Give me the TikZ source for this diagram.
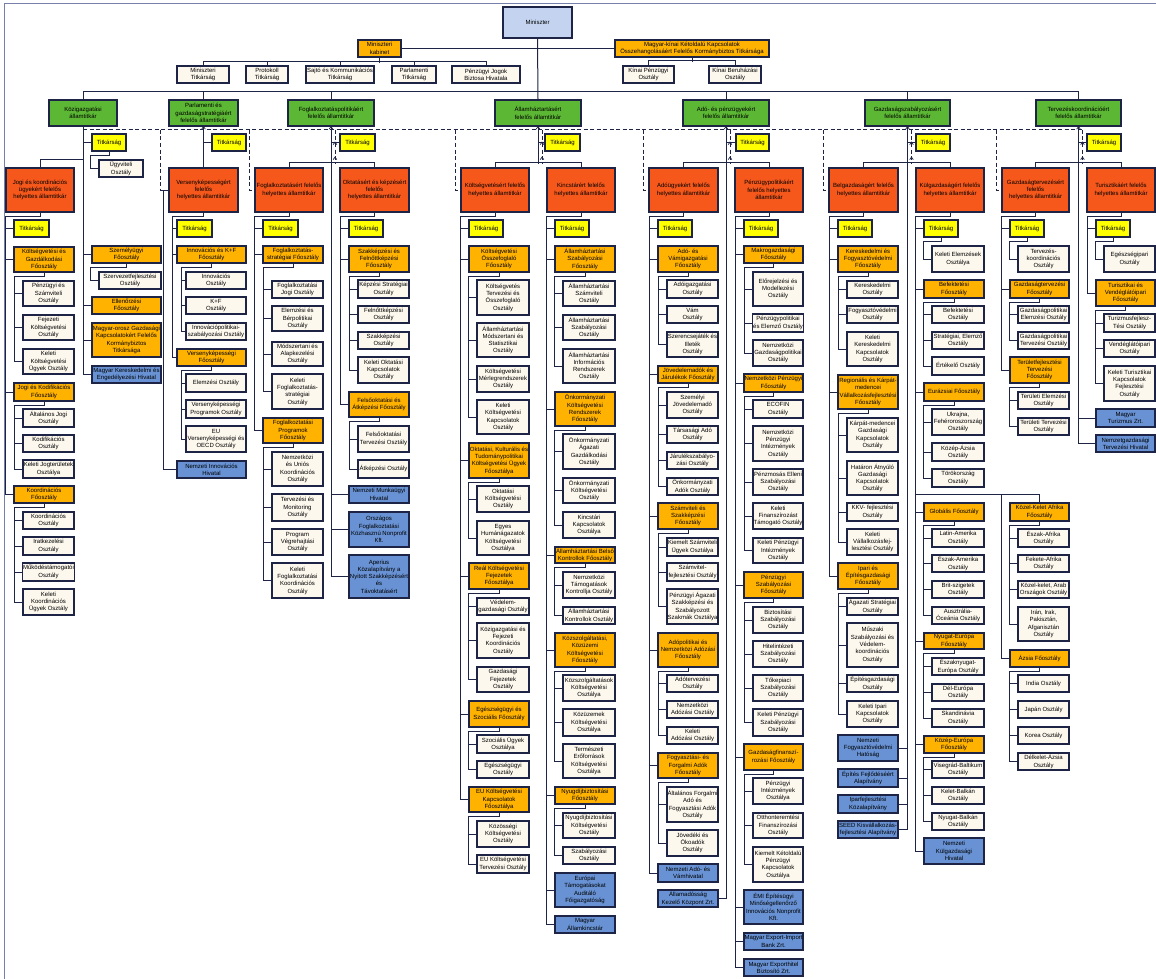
\documentclass[tikz,border=0pt]{standalone}
\usepackage{fontspec}
\setmainfont{Liberation Sans}
\newcommand\myfs{\fontsize{6}{7.3}\selectfont}
\definecolor{bd}{RGB}{30,36,70}
\definecolor{cgreen}{RGB}{92,184,52}
\definecolor{cred}{RGB}{246,88,28}
\definecolor{corange}{RGB}{255,178,0}
\definecolor{cyellow}{RGB}{255,255,0}
\definecolor{ccream}{RGB}{253,248,238}
\definecolor{cblue}{RGB}{104,146,212}
\definecolor{cmin}{RGB}{196,212,240}
\definecolor{cframe}{RGB}{120,128,170}
\tikzset{
 bxbase/.style={draw=bd, line width=1.1pt, inner sep=0.3pt, align=center, font=\myfs, text=black},
 sg/.style={bxbase, fill=cgreen},
 hs/.style={bxbase, fill=cred},
 fo/.style={bxbase, fill=corange},
 ti/.style={bxbase, fill=cyellow},
 os/.style={bxbase, fill=ccream},
 hv/.style={bxbase, fill=cblue},
 mn/.style={bxbase, fill=cmin, line width=1.8pt},
 cn/.style={draw=bd, line width=1pt},
 dsh/.style={draw=bd, line width=1pt, dash pattern=on 4pt off 2.5pt},
 frm/.style={draw=cframe, line width=0.8pt}
}
\newcommand\bx[7]{\node[#1,minimum width={#5-#3},minimum height={#6-#4}] (#2) at ({(#3+#5)/2},{(#4+#6)/2}) {#7};}
\newcommand\kids[3][8]{%
  \foreach \c in {#3}{\xdef\lastkid{\c}}%
  \draw[cn] (#2.south) -- ++(0,4) -| ([xshift=-#1pt]\lastkid.west) -- (\lastkid.west);%
  \foreach \c in {#3}{\draw[cn] (\c.west) -- ++(-#1,0);}%
}
\newcommand\caret[1]{\draw[cn,line width=0.7pt] (#1) ++(-1.8,2.6) -- ++(1.8,-2.6) -- ++(1.8,2.6);}
\begin{document}
\begin{tikzpicture}[x=1pt,y=-1pt]
\useasboundingbox (0,0) rectangle (1156,979);
\fill[white] (0,0) rectangle (1156,979);
\draw[frm] (4,979) -- (4,3) -- (1156,3);
% ---------- top ----------
\bx{mn}{MIN}{503}{7}{572}{38}{Miniszter}
\bx{fo}{KAB}{358}{40}{401}{57}{Miniszteri\\kabinet}
\bx{fo}{MKK}{615}{40}{769}{57}{Magyar-kínai Kétoldalú Kapcsolatok\\Összehangolásáért Felelős Kormánybiztos Titkársága}
\bx{os}{MIT}{177}{66}{229}{83}{Miniszteri\\Titkárság}
\bx{os}{PRT}{246}{66}{288}{83}{Protokoll\\Titkárság}
\bx{os}{SKT}{306}{66}{374}{83}{Sajtó és Kommunikációs\\Titkárság}
\bx{os}{PAT}{392}{66}{436}{83}{Parlamenti\\Titkárság}
\bx{os}{PJB}{452}{66}{520}{83}{Pénzügyi Jogok\\Biztosa Hivatala}
\bx{os}{KPO}{623}{66}{674}{83}{Kínai Pénzügyi\\Osztály}
\bx{os}{KBO}{709}{66}{761}{83}{Kínai Beruházási\\Osztály}
% ---------- state secretaries ----------
\bx{sg}{S1}{49}{100}{117}{126}{Közigazgatási\\államtitkár}
\bx{sg}{S2}{169}{100}{238}{126}{Parlamenti és\\gazdaságstratégiáért\\felelős államtitkár}
\bx{sg}{S3}{288}{100}{374}{126}{Foglalkoztatáspolitikáért\\felelős államtitkár}
\bx{sg}{S4}{495}{100}{581}{126}{Államháztartásért\\felelős államtitkár}
\bx{sg}{S5}{683}{100}{769}{126}{Adó- és pénzügyekért\\felelős államtitkár}
\bx{sg}{S6}{865}{100}{950}{126}{Gazdaságszabályozásért\\felelős államtitkár}
\bx{sg}{S7}{1036}{100}{1121}{126}{Tervezéskoordinációért\\felelős államtitkár}
% ---------- column 1 ----------
\bx{ti}{T1}{92}{134}{126}{151}{Titkárság}
\bx{os}{UGY}{99}{160}{143}{177}{Ügyviteli\\Osztály}
\bx{hs}{H1}{6}{168}{74}{212}{Jogi és koordinációs\\ügyekért felelős\\helyettes államtitkár}
\bx{ti}{T1h}{14}{220}{49}{237}{Titkárság}
\bx{fo}{KGF}{14}{247}{74}{272}{Költségvetési és\\Gazdálkodási\\Főosztály}
\bx{os}{PSO}{23}{281}{74}{306}{Pénzügyi és\\Számviteli\\Osztály}
\bx{os}{FKO}{23}{315}{74}{340}{Fejezeti\\Költségvetési\\Osztály}
\bx{os}{KKU}{23}{349}{74}{374}{Keleti\\Költségvetési\\Ügyek Osztály}
\bx{fo}{JKF}{14}{383}{74}{401}{Jogi és Kodifikációs\\Főosztály}
\bx{os}{AJO}{23}{409}{74}{427}{Általános Jogi\\Osztály}
\bx{os}{KDO}{23}{435}{74}{452}{Kodifikációs\\Osztály}
\bx{os}{KJO}{23}{460}{74}{478}{Keleti Jogterületek\\Osztálya}
\bx{fo}{KOF}{14}{486}{74}{503}{Koordinációs\\Főosztály}
\bx{os}{KOO}{23}{512}{74}{529}{Koordinációs\\Osztály}
\bx{os}{IKO}{23}{537}{74}{555}{Iratkezelési\\Osztály}
\bx{os}{MTO}{23}{563}{74}{581}{Működéstámogatói\\Osztály}
\bx{os}{KKO}{23}{589}{74}{615}{Keleti\\Koordinációs\\Ügyek Osztály}
\bx{fo}{SZF}{92}{246}{161}{263}{Személyügyi\\Főosztály}
\bx{os}{SZO}{99}{272}{161}{289}{Szervezetfejlesztési\\Osztály}
\bx{fo}{ELF}{92}{297}{161}{314}{Ellenőrzési\\Főosztály}
\bx{fo}{MOT}{92}{323}{161}{357}{Magyar-orosz Gazdasági\\Kapcsolatokért Felelős\\Kormánybiztos\\Titkársága}
\bx{hv}{MKE}{92}{366}{161}{383}{Magyar Kereskedelmi és\\Engedélyezési Hivatal}
% ---------- column 2 ----------
\bx{ti}{T2}{212}{134}{246}{151}{Titkárság}
\bx{hs}{H2}{169}{168}{238}{212}{Versenyképességért\\felelős\\helyettes államtitkár}
\bx{ti}{T2h}{177}{220}{212}{237}{Titkárság}
\bx{fo}{IKF}{177}{246}{246}{263}{Innovációs és K+F\\Főosztály}
\bx{os}{INO}{186}{272}{246}{289}{Innovációs\\Osztály}
\bx{os}{KFO}{186}{297}{246}{314}{K+F\\Osztály}
\bx{os}{IPO}{186}{323}{246}{340}{Innovációpolitikai-\\szabályozási Osztály}
\bx{fo}{VKF}{177}{349}{246}{366}{Versenyképességi\\Főosztály}
\bx{os}{ELO}{186}{374}{246}{392}{Elemzési Osztály}
\bx{os}{VPO}{186}{400}{246}{418}{Versenyképességi\\Programok Osztály}
\bx{os}{EUO}{186}{426}{246}{452}{EU\\Versenyképességi és\\OECD Osztály}
\bx{hv}{NIH}{177}{461}{246}{478}{Nemzeti Innovációs\\Hivatal}
% ---------- column 3 ----------
\bx{ti}{T3}{340}{134}{375}{151}{Titkárság}
\bx{hs}{H3a}{255}{168}{323}{212}{Foglalkoztatásért felelős\\helyettes államtitkár}
\bx{ti}{T3a}{263}{220}{298}{237}{Titkárság}
\bx{fo}{FSF}{263}{246}{323}{263}{Foglalkoztatás-\\stratégiai Főosztály}
\bx{os}{FJO}{272}{281}{323}{298}{Foglalkoztatási\\Jogi Osztály}
\bx{os}{EBO}{272}{306}{323}{331}{Elemzési és\\Bérpolitikai\\Osztály}
\bx{os}{MAO}{272}{342}{323}{366}{Módszertani és\\Alapkezelési\\Osztály}
\bx{os}{KFS}{272}{374}{323}{409}{Keleti\\Foglalkoztatás-\\stratégiai\\Osztály}
\bx{fo}{FPF}{263}{418}{323}{443}{Foglalkoztatási\\Programok\\Főosztály}
\bx{os}{NUK}{272}{452}{323}{486}{Nemzetközi\\és Uniós\\Koordinációs\\Osztály}
\bx{os}{TMO}{272}{494}{323}{521}{Tervezési és\\Monitoring\\Osztály}
\bx{os}{PVO}{272}{529}{323}{555}{Program\\Végrehajtási\\Osztály}
\bx{os}{KFK}{272}{563}{323}{598}{Keleti\\Foglalkoztatási\\Koordinációs\\Osztály}
\bx{hs}{H3b}{340}{168}{409}{212}{Oktatásért és képzésért\\felelős\\helyettes államtitkár}
\bx{ti}{T3b}{349}{220}{383}{237}{Titkárság}
\bx{fo}{SKF}{349}{246}{409}{272}{Szakképzési és\\Felnőttképzési\\Főosztály}
\bx{os}{KSO}{358}{280}{409}{298}{Képzési Stratégiai\\Osztály}
\bx{os}{FKO3}{358}{306}{409}{323}{Felnőttképzési\\Osztály}
\bx{os}{SZO3}{358}{332}{409}{349}{Szakképzési\\Osztály}
\bx{os}{KOK}{358}{357}{409}{383}{Keleti Oktatási\\Kapcsolatok\\Osztály}
\bx{fo}{FAF}{349}{392}{409}{417}{Felsőoktatási és\\Átképzési Főosztály}
\bx{os}{FTO}{358}{426}{409}{452}{Felsőoktatási\\Tervezési Osztály}
\bx{os}{AKO}{358}{460}{409}{478}{Átképzési Osztály}
\bx{hv}{NMH}{349}{486}{409}{503}{Nemzeti Munkaügyi\\Hivatal}
\bx{hv}{OFK}{349}{512}{409}{547}{Országos\\Foglalkoztatási\\Közhasznú Nonprofit\\Kft.}
\bx{hv}{APE}{349}{555}{409}{598}{Aperius\\Közalapítvány a\\Nyitott Szakképzésért\\és\\Távoktatásért}
% ---------- column 4 ----------
\bx{ti}{T4}{545}{134}{580}{151}{Titkárság}
\bx{hs}{H4a}{461}{168}{529}{212}{Költségvetésért felelős\\helyettes államtitkár}
\bx{ti}{T4a}{469}{220}{503}{237}{Titkárság}
\bx{fo}{KOSF}{469}{246}{529}{272}{Költségvetési\\Összefoglaló\\Főosztály}
\bx{os}{KTO}{477}{280}{529}{315}{Költségvetés\\Tervezési és\\Összefoglaló\\Osztály}
\bx{os}{AMS}{477}{323}{529}{357}{Államháztartási\\Módszertani és\\Statisztikai\\Osztály}
\bx{os}{KMR}{477}{366}{529}{392}{Költségvetési\\Mérlegrendszerek\\Osztály}
\bx{os}{KKK}{477}{400}{529}{434}{Keleti\\Költségvetési\\Kapcsolatok\\Osztály}
\bx{fo}{OKT}{469}{443}{529}{478}{Oktatási, Kulturális és\\Tudománypolitikai\\Költségvetési Ügyek\\Főosztálya}
\bx{os}{OKO}{477}{486}{529}{512}{Oktatási\\Költségvetési\\Osztály}
\bx{os}{EHK}{477}{521}{529}{555}{Egyes\\Humánágazatok\\Költségvetési\\Osztálya}
\bx{fo}{REAL}{469}{563}{529}{589}{Reál Költségvetési\\Fejezetek\\Főosztálya}
\bx{os}{VGO}{477}{598}{529}{615}{Védelem-\\gazdasági Osztály}
\bx{os}{KFKO}{477}{623}{529}{658}{Közigazgatási és\\Fejezeti\\Koordinációs\\Osztály}
\bx{os}{GFO}{477}{667}{529}{692}{Gazdasági\\Fejezetek\\Osztály}
\bx{fo}{EGSZ}{469}{701}{529}{727}{Egészségügyi és\\Szociális Főosztály}
\bx{os}{SZU}{477}{735}{529}{753}{Szociális Ügyek\\Osztálya}
\bx{os}{EGO}{477}{761}{529}{778}{Egészségügyi\\Osztály}
\bx{fo}{EUK}{469}{787}{529}{812}{EU Költségvetési\\Kapcsolatok\\Főosztálya}
\bx{os}{KKO4}{477}{821}{529}{847}{Közösségi\\Költségvetési\\Osztály}
\bx{os}{EKT}{477}{855}{529}{873}{EU Költségvetési\\Tervezési Osztály}
\bx{hs}{H4b}{547}{168}{615}{212}{Kincstárért felelős\\helyettes államtitkár}
\bx{ti}{T4b}{555}{220}{589}{237}{Titkárság}
\bx{fo}{ASF}{555}{246}{615}{272}{Államháztartási\\Szabályozási\\Főosztály}
\bx{os}{ASZ}{563}{281}{615}{306}{Államháztartási\\Számviteli\\Osztály}
\bx{os}{ASZO}{563}{315}{615}{340}{Államháztartási\\Szabályozási\\Osztály}
\bx{os}{AIR}{563}{349}{615}{383}{Államháztartási\\Információs\\Rendszerek\\Osztály}
\bx{fo}{OKR}{555}{392}{615}{426}{Önkormányzati\\Költségvetési\\Rendszerek\\Főosztály}
\bx{os}{OAG}{563}{434}{615}{469}{Önkormányzati\\Ágazati\\Gazdálkodási\\Osztály}
\bx{os}{OKO2}{563}{478}{615}{503}{Önkormányzati\\Költségvetési\\Osztály}
\bx{os}{KKO3}{563}{512}{615}{538}{Kincstári\\Kapcsolatok\\Osztálya}
\bx{fo}{ABK}{555}{547}{615}{563}{Államháztartási Belső\\Kontrollok Főosztály}
\bx{os}{NTK}{563}{572}{615}{598}{Nemzetközi\\Támogatások\\Kontrollja Osztály}
\bx{os}{AKO2}{563}{607}{615}{624}{Államháztartási\\Kontrollok Osztály}
\bx{fo}{KKF}{555}{633}{615}{667}{Közszolgáltatási,\\Közüzemi\\Költségvetési\\Főosztály}
\bx{os}{KSZ}{563}{675}{615}{701}{Közszolgáltatások\\Költségvetési\\Osztálya}
\bx{os}{KZE}{563}{709}{615}{736}{Közüzemek\\Költségvetési\\Osztálya}
\bx{os}{TEK}{563}{744}{615}{778}{Természeti\\Erőforrások\\Költségvetési\\Osztálya}
\bx{fo}{NYF}{555}{787}{615}{804}{Nyugdíjbiztosítási\\Főosztály}
\bx{os}{NYK}{563}{813}{615}{838}{Nyugdíjbiztosítási\\Költségvetési\\Osztály}
\bx{os}{SZO2}{563}{847}{615}{864}{Szabályozási\\Osztály}
\bx{hv}{ETA}{555}{873}{615}{907}{Európai\\Támogatásokat\\Auditáló\\Főigazgatóság}
\bx{hv}{MAK}{555}{916}{615}{933}{Magyar\\Államkincstár}
% ---------- column 5 ----------
\bx{ti}{T5}{736}{134}{769}{151}{Titkárság}
\bx{hs}{H5a}{649}{168}{718}{212}{Adóügyekért felelős\\helyettes államtitkár}
\bx{ti}{T5a}{658}{220}{692}{237}{Titkárság}
\bx{fo}{AVF}{658}{246}{718}{272}{Adó- és\\Vámigazgatási\\Főosztály}
\bx{os}{ADO}{667}{280}{718}{298}{Adóigazgatási\\Osztály}
\bx{os}{VAM}{667}{306}{718}{323}{Vám\\Osztály}
\bx{os}{SZI}{667}{332}{718}{357}{Szerencsejáték és\\Illeték\\Osztály}
\bx{fo}{JJF}{658}{366}{718}{383}{Jövedelemadók és\\Járulékok Főosztály}
\bx{os}{SZJ}{667}{392}{718}{418}{Személyi\\Jövedelemadó\\Osztály}
\bx{os}{TAO}{667}{426}{718}{443}{Társasági Adó\\Osztály}
\bx{os}{JSZ}{667}{452}{718}{469}{Járulékszabályo-\\zási Osztály}
\bx{os}{OAO}{667}{478}{718}{495}{Önkormányzati\\Adók Osztály}
\bx{fo}{SZSZ}{658}{503}{718}{529}{Számviteli és\\Szakképzési\\Főosztály}
\bx{os}{KSU}{667}{538}{718}{556}{Kiemelt Számviteli\\Ügyek Osztálya}
\bx{os}{SZFO}{667}{563}{718}{581}{Számvitel-\\fejlesztési Osztály}
\bx{os}{PASZ}{667}{589}{718}{624}{Pénzügyi Ágazati\\Szakképzési és\\Szabályozott\\Szakmák Osztálya}
\bx{fo}{ANA}{658}{633}{718}{667}{Adópolitikai és\\Nemzetközi Adózási\\Főosztály}
\bx{os}{ATO}{667}{675}{718}{692}{Adótervezési\\Osztály}
\bx{os}{NAO}{667}{701}{718}{718}{Nemzetközi\\Adózási Osztály}
\bx{os}{KAO}{667}{727}{718}{744}{Keleti\\Adózási Osztály}
\bx{fo}{FFA}{658}{753}{718}{778}{Fogyasztási- és\\Forgalmi Adók\\Főosztály}
\bx{os}{AFA}{667}{787}{718}{822}{Általános Forgalmi\\Adó és\\Fogyasztási Adók\\Osztály}
\bx{os}{JOA}{667}{830}{718}{856}{Jövedéki és\\Ökoadók\\Osztály}
\bx{hv}{NAV}{658}{864}{718}{882}{Nemzeti Adó- és\\Vámhivatal}
\bx{hv}{AKK}{658}{890}{718}{907}{Államadósság\\Kezelő Központ Zrt.}
\bx{hs}{H5b}{735}{168}{803}{212}{Pénzügypolitikáért\\felelős helyettes\\államtitkár}
\bx{ti}{T5b}{744}{220}{778}{237}{Titkárság}
\bx{fo}{MGF}{744}{246}{803}{263}{Makrogazdasági\\Főosztály}
\bx{os}{EMO}{753}{272}{803}{306}{Előrejelzési és\\Modellezési\\Osztály}
\bx{os}{PEO}{753}{314}{803}{332}{Pénzügypolitikai\\és Elemző Osztály}
\bx{os}{NGO}{753}{340}{803}{366}{Nemzetközi\\Gazdaságpolitikai\\Osztály}
\bx{fo}{NPF}{744}{374}{803}{392}{Nemzetközi Pénzügyi\\Főosztály}
\bx{os}{ECO}{753}{400}{803}{418}{ECOFIN\\Osztály}
\bx{os}{NPI}{753}{426}{803}{461}{Nemzetközi\\Pénzügyi\\Intézmények\\Osztály}
\bx{os}{PEL}{753}{469}{803}{495}{Pénzmosás Elleni\\Szabályozási\\Osztály}
\bx{os}{KFT}{753}{503}{803}{529}{Keleti\\Finanszírozást\\Támogató Osztály}
\bx{os}{KPI}{753}{538}{803}{563}{Keleti Pénzügyi\\Intézmények\\Osztály}
\bx{fo}{PSF}{744}{572}{803}{598}{Pénzügyi\\Szabályozási\\Főosztály}
\bx{os}{BSO}{753}{607}{803}{633}{Biztosítási\\Szabályozási\\Osztály}
\bx{os}{HSO}{753}{641}{803}{667}{Hitelintézeti\\Szabályozási\\Osztály}
\bx{os}{TSO}{753}{675}{803}{701}{Tőkepiaci\\Szabályozási\\Osztály}
\bx{os}{KPS}{753}{709}{803}{736}{Keleti Pénzügyi\\Szabályozási\\Osztály}
\bx{fo}{GFF}{744}{744}{803}{770}{Gazdaságfinanszí-\\rozási Főosztály}
\bx{os}{PIO}{753}{778}{803}{804}{Pénzügyi\\Intézmények\\Osztálya}
\bx{os}{OFO}{753}{813}{803}{838}{Otthonteremtési\\Finanszírozási\\Osztály}
\bx{os}{KKP}{753}{847}{803}{882}{Kiemelt Kétoldalú\\Pénzügyi\\Kapcsolatok\\Osztálya}
\bx{hv}{EMI}{744}{890}{803}{924}{ÉMI Építésügyi\\Minőségellenőrző\\Innovációs Nonprofit\\Kft.}
\bx{hv}{MEI}{744}{933}{803}{950}{Magyar Export-Import\\Bank Zrt.}
\bx{hv}{MEB}{744}{959}{803}{976}{Magyar Exporthitel\\Biztosító Zrt.}
% ---------- column 6 ----------
\bx{ti}{T6}{916}{134}{950}{151}{Titkárság}
\bx{hs}{H6a}{829}{168}{898}{212}{Belgazdaságért felelős\\helyettes államtitkár}
\bx{ti}{T6a}{838}{220}{872}{237}{Titkárság}
\bx{fo}{KFF}{838}{246}{898}{272}{Kereskedelmi és\\Fogyasztóvédelmi\\Főosztály}
\bx{os}{KER}{847}{281}{898}{298}{Kereskedelmi\\Osztály}
\bx{os}{FOG}{847}{306}{898}{323}{Fogyasztóvédelmi\\Osztály}
\bx{os}{KKK2}{847}{332}{898}{366}{Keleti\\Kereskedelmi\\Kapcsolatok\\Osztály}
\bx{fo}{RKV}{838}{375}{898}{409}{Regionális és Kárpát-\\medencei\\Vállalkozásfejlesztési\\Főosztály}
\bx{os}{KMG}{847}{418}{898}{452}{Kárpát-medencei\\Gazdasági\\Kapcsolatok\\Osztály}
\bx{os}{HAG}{847}{461}{898}{495}{Határon Átnyúló\\Gazdasági\\Kapcsolatok\\Osztály}
\bx{os}{KKV}{847}{503}{898}{521}{KKV- fejlesztési\\Osztály}
\bx{os}{KVF}{847}{529}{898}{555}{Keleti\\Vállalkozásfej-\\lesztési Osztály}
\bx{fo}{IEF}{838}{563}{898}{589}{Ipari és\\Építésgazdasági\\Főosztály}
\bx{os}{ASO}{847}{598}{898}{615}{Ágazati Stratégiai\\Osztály}
\bx{os}{MSZ}{847}{623}{898}{667}{Műszaki\\Szabályozási és\\Védelem-\\koordinációs\\Osztály}
\bx{os}{EGO2}{847}{675}{898}{692}{Építésgazdasági\\Osztály}
\bx{os}{KIK}{847}{701}{898}{727}{Keleti Ipari\\Kapcsolatok\\Osztály}
\bx{hv}{NFH}{838}{735}{898}{761}{Nemzeti\\Fogyasztóvédelmi\\Hatóság}
\bx{hv}{EFA}{838}{769}{898}{787}{Építés Fejlődéséért\\Alapítvány}
\bx{hv}{IPK}{838}{795}{898}{813}{Iparfejlesztési\\Közalapítvány}
\bx{hv}{SEED}{838}{821}{898}{838}{SEED Kisvállalkozás-\\fejlesztési Alapítvány}
\bx{hs}{H6b}{916}{168}{984}{212}{Külgazdaságért felelős\\helyettes államtitkár}
\bx{ti}{T6b}{924}{220}{958}{237}{Titkárság}
\bx{os}{KEO}{932}{246}{984}{272}{Keleti Elemzések\\Osztálya}
\bx{fo}{BEF}{924}{280}{984}{298}{Befektetési\\Főosztály}
\bx{os}{BFO}{932}{306}{984}{323}{Befektetési\\Osztály}
\bx{os}{SEO}{932}{332}{984}{349}{Stratégiai, Elemző\\Osztály}
\bx{os}{ERO}{932}{357}{984}{375}{Értékelő Osztály}
\bx{fo}{EUR}{924}{383}{984}{401}{Eurázsiai Főosztály}
\bx{os}{UFO}{932}{409}{984}{435}{Ukrajna,\\Fehéroroszország\\Osztály}
\bx{os}{KAZ}{932}{443}{984}{461}{Közép-Ázsia\\Osztály}
\bx{os}{TOR}{932}{469}{984}{487}{Törökország\\Osztály}
\bx{fo}{GLO}{924}{503}{984}{521}{Globális Főosztály}
\bx{os}{LAM}{932}{529}{984}{547}{Latin-Amerika\\Osztály}
\bx{os}{EAM}{932}{555}{984}{572}{Észak-Amerika\\Osztály}
\bx{os}{BSZ}{932}{581}{984}{598}{Brit-szigetek\\Osztály}
\bx{os}{AOC}{932}{607}{984}{624}{Ausztrália-\\Óceánia Osztály}
\bx{fo}{NYE}{924}{633}{984}{649}{Nyugat-Európa\\Főosztály}
\bx{os}{ENY}{932}{658}{984}{675}{Északnyugat-\\Európa Osztály}
\bx{os}{DEU}{932}{684}{984}{701}{Dél-Európa\\Osztály}
\bx{os}{SKA}{932}{709}{984}{727}{Skandinávia\\Osztály}
\bx{fo}{KEU}{924}{736}{984}{753}{Közép-Európa\\Főosztály}
\bx{os}{VBA}{932}{761}{984}{778}{Visegrád-Baltikum\\Osztály}
\bx{os}{KBA}{932}{787}{984}{804}{Kelet-Balkán\\Osztály}
\bx{os}{NBA}{932}{813}{984}{830}{Nyugat-Balkán\\Osztály}
\bx{hv}{NKH}{924}{838}{984}{864}{Nemzeti\\Külgazdasági\\Hivatal}
\bx{fo}{KKA}{1010}{503}{1069}{521}{Közel-Kelet Afrika\\Főosztály}
\bx{os}{EAF}{1018}{529}{1069}{547}{Észak-Afrika\\Osztály}
\bx{os}{FAF2}{1018}{555}{1069}{572}{Fekete-Afrika\\Osztály}
\bx{os}{KAO2}{1018}{581}{1069}{598}{Közel-kelet, Arab\\Országok Osztály}
\bx{os}{IIP}{1018}{607}{1069}{641}{Irán, Irak,\\Pakisztán,\\Afganisztán\\Osztály}
\bx{fo}{AZS}{1010}{650}{1069}{667}{Ázsia Főosztály}
\bx{os}{IND}{1018}{675}{1069}{692}{India Osztály}
\bx{os}{JAP}{1018}{701}{1069}{718}{Japán Osztály}
\bx{os}{KOR}{1018}{727}{1069}{744}{Korea Osztály}
\bx{os}{DKA}{1018}{753}{1069}{770}{Délkelet-Ázsia\\Osztály}
% ---------- column 7 ----------
\bx{ti}{T7}{1087}{134}{1121}{151}{Titkárság}
\bx{hs}{H7a}{1002}{168}{1069}{212}{Gazdaságtervezésért\\felelős\\helyettes államtitkár}
\bx{ti}{T7a}{1010}{220}{1044}{237}{Titkárság}
\bx{os}{TKO}{1018}{246}{1069}{272}{Tervezés-\\koordinációs\\Osztály}
\bx{fo}{GTF}{1010}{280}{1069}{298}{Gazdaságtervezési\\Főosztály}
\bx{os}{GEO}{1018}{306}{1069}{323}{Gazdaságpolitikai\\Elemzési Osztály}
\bx{os}{GTO}{1018}{332}{1069}{349}{Gazdaságpolitikai\\Tervezési Osztály}
\bx{fo}{TTF}{1010}{357}{1069}{383}{Területfejlesztési\\Tervezési\\Főosztály}
\bx{os}{TEO}{1018}{392}{1069}{409}{Területi Elemzési\\Osztály}
\bx{os}{TTO}{1018}{418}{1069}{435}{Területi Tervezési\\Osztály}
\bx{hs}{H7b}{1087}{168}{1155}{212}{Turisztikáért felelős\\helyettes államtitkár}
\bx{ti}{T7b}{1096}{220}{1130}{237}{Titkárság}
\bx{os}{EIO}{1104}{246}{1155}{272}{Egészségipari\\Osztály}
\bx{fo}{TVF}{1096}{280}{1155}{306}{Turisztikai és\\Vendéglátóipari\\Főosztály}
\bx{os}{TFO}{1104}{314}{1155}{332}{Turizmusfejlesz-\\Tési Osztály}
\bx{os}{VEO}{1104}{340}{1155}{357}{Vendéglátóipari\\Osztály}
\bx{os}{KTK}{1104}{366}{1155}{401}{Keleti Turisztikai\\Kapcsolatok\\Fejlesztési\\Osztály}
\bx{hv}{MTZ}{1096}{409}{1155}{427}{Magyar\\Turizmus Zrt.}
\bx{hv}{NTH}{1096}{435}{1155}{452}{Nemzetgazdasági\\Tervezési Hivatal}
% ================= connectors =================
\draw[cn] (MIN.south) -- (S4.north);
\draw[cn] (KAB.east) -- (MKK.west);
\draw[cn] (KAB.south) -- ++(0,5);
\draw[cn] (MIT.north) -- ++(0,-4) -| (PJB.north);
\foreach \n in {PRT,SKT,PAT} \draw[cn] (\n.north) -- ++(0,-4);
\draw[cn] (MKK.south) -- ++(0,4);
\draw[cn] (KPO.north) -- ++(0,-5) -| (KBO.north);
\draw[cn] (S1.north) -- ++(0,-8) -| (S7.north);
\foreach \n in {S2,S3,S5,S6} \draw[cn] (\n.north) -- ++(0,-8);
% dashed lines
\coordinate (dL) at (83,130);
\coordinate (dR) at (1083,130);
\draw[dsh] (dL) -- (dR);
\draw[dsh] ([xshift=-8pt]H2.west |- dL) |- (H2.west);
\foreach \n in {H3a,H4a,H5a,H6a,H7a} \draw[dsh] ([xshift=-5pt]\n.west |- dL) |- (\n.west);
\foreach \n in {S3,S4,S5,S6,S7} {
  \draw[dsh] ([xshift=4pt]\n.south |- dL) -- ++(0,33);
  \caret{[xshift=4pt,yshift=-15.5pt]\n.south}
  \caret{[xshift=4pt,yshift=-30.5pt]\n.south}
}
\foreach \n in {S2,S3,S4,S5,S6,S7} {\caret{\n.south}}
% column 1
\draw[cn] (S1.south) |- (MKE.west);
\foreach \n in {T1,SZF,ELF,MOT} \draw[cn] (S1.south |- \n.west) -- (\n.west);
\draw[cn] (H1.north) -- ++(0,-8) -| (S1.south);
\kids{H1}{T1h,KGF,JKF,KOF}
\kids{T1}{UGY}
\kids{KGF}{PSO,FKO,KKU}
\kids{JKF}{AJO,KDO,KJO}
\kids{KOF}{KOO,IKO,MTO,KKO}
\kids{SZF}{SZO}
% column 2
\draw[cn] (S2.south) -- (H2.north);
\draw[cn] (S2.south |- T2.west) -- (T2.west);
\draw[cn] (H2.west) -- ++(-5,0) |- (NIH.west);
\kids[4]{H2}{T2h,IKF,VKF}
\kids[4]{IKF}{INO,KFO,IPO}
\kids[4]{VKF}{ELO,VPO,EUO}
% column 3
\draw[cn] (S3.south) |- (APE.west);
\foreach \n in {T3,NMH,OFK} \draw[cn] (S3.south |- \n.west) -- (\n.west);
\draw[cn] (H3a.north) -- ++(0,-5) -| (H3b.north);
\kids{H3a}{T3a,FSF,FPF}
\kids{FSF}{FJO,EBO,MAO,KFS}
\kids{FPF}{NUK,TMO,PVO,KFK}
\kids{H3b}{T3b,SKF,FAF}
\kids{SKF}{KSO,FKO3,SZO3,KOK}
\kids{FAF}{FTO,AKO}
% column 4
\draw[cn] (S4.south) -- ++(0,37);
\draw[cn] (S4.south |- T4.west) -- (T4.west);
\draw[cn] (H4a.north) -- ++(0,-5) -| (H4b.north);
\kids{H4a}{T4a,KOSF,OKT,REAL,EGSZ,EUK}
\kids{KOSF}{KTO,AMS,KMR,KKK}
\kids{OKT}{OKO,EHK}
\kids{REAL}{VGO,KFKO,GFO}
\kids{EGSZ}{SZU,EGO}
\kids{EUK}{KKO4,EKT}
\kids{H4b}{T4b,ASF,OKR,ABK,KKF,NYF,ETA,MAK}
\kids{ASF}{ASZ,ASZO,AIR}
\kids{OKR}{OAG,OKO2,KKO3}
\kids{ABK}{NTK,AKO2}
\kids{KKF}{KSZ,KZE,TEK}
\kids{NYF}{NYK,SZO2}
% column 5
\draw[cn] (S5.south) |- (AKK.east);
\draw[cn] (S5.south |- T5.west) -- (T5.west);
\draw[cn] (H5a.north) -- ++(0,-5) -| (H5b.north);
\kids{H5a}{T5a,AVF,JJF,SZSZ,ANA,FFA,NAV}
\kids{AVF}{ADO,VAM,SZI}
\kids{JJF}{SZJ,TAO,JSZ,OAO}
\kids{SZSZ}{KSU,SZFO,PASZ}
\kids{ANA}{ATO,NAO,KAO}
\kids{FFA}{AFA,JOA}
\kids{H5b}{T5b,MGF,NPF,PSF,GFF,EMI,MEI,MEB}
\kids{MGF}{EMO,PEO,NGO}
\kids{NPF}{ECO,NPI,PEL,KFT,KPI}
\kids{PSF}{BSO,HSO,TSO,KPS}
\kids{GFF}{PIO,OFO,KKP}
% column 6
\draw[cn] (S6.south) |- (SEED.east);
\draw[cn] (S6.south |- T6.west) -- (T6.west);
\foreach \n in {NFH,EFA,IPK} \draw[cn] (S6.south |- \n.east) -- (\n.east);
\draw[cn] (H6a.north) -- ++(0,-5) -| (H6b.north);
\kids{H6a}{T6a,KFF,RKV,IEF}
\kids{KFF}{KER,FOG,KKK2}
\kids{RKV}{KMG,HAG,KKV,KVF}
\kids{IEF}{ASO,MSZ,EGO2,KIK}
\kids{H6b}{T6b,BEF,EUR,GLO,NYE,KEU,NKH}
\kids{T6b}{KEO}
\kids{BEF}{BFO,SEO,ERO}
\kids{EUR}{UFO,KAZ,TOR}
\kids{GLO}{LAM,EAM,BSZ,AOC}
\kids{NYE}{ENY,DEU,SKA}
\kids{KEU}{VBA,KBA,NBA}
\draw[cn] (KKA.north) -- ++(0,-8) -| ([xshift=-8pt]GLO.west);
\draw[cn] (AZS.west) -- ++(-8,0) |- ([yshift=8pt]KKA.north);
\kids{KKA}{EAF,FAF2,KAO2,IIP}
\kids{AZS}{IND,JAP,KOR,DKA}
% column 7
\draw[cn] (S7.south) |- (NTH.west);
\foreach \n in {T7,MTZ} \draw[cn] (S7.south |- \n.west) -- (\n.west);
\draw[cn] (H7a.north) -- ++(0,-5) -| (H7b.north);
\kids{H7a}{T7a,GTF,TTF}
\kids{T7a}{TKO}
\kids{GTF}{GEO,GTO}
\kids{TTF}{TEO,TTO}
\kids{H7b}{T7b,TVF}
\kids{T7b}{EIO}
\kids{TVF}{TFO,VEO,KTK}
\end{tikzpicture}
\end{document}
